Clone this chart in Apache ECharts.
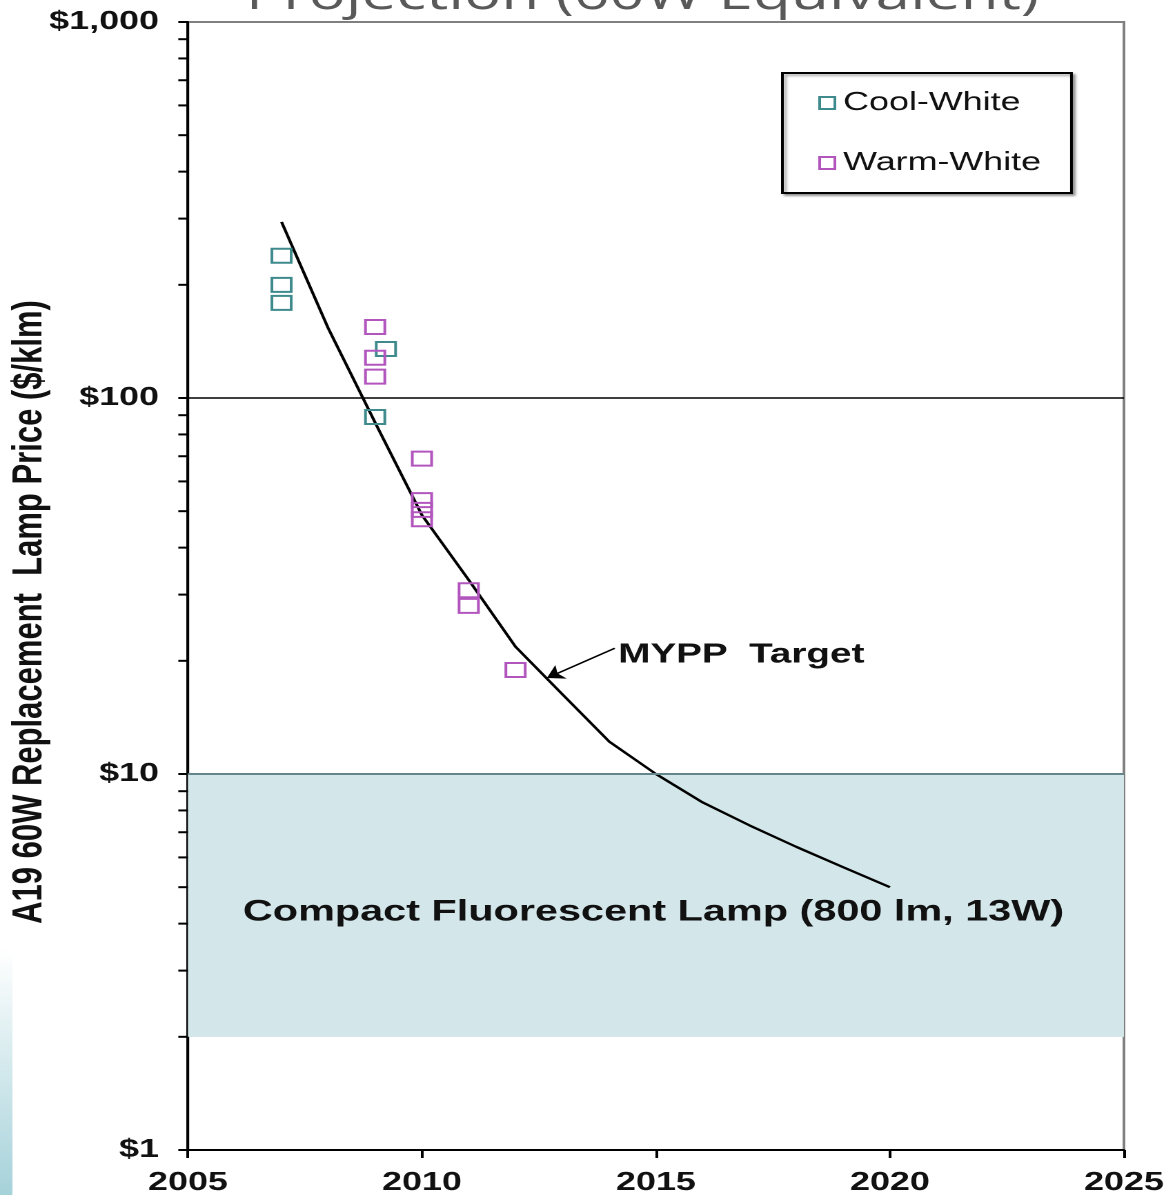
<!DOCTYPE html>
<html>
<head>
<meta charset="utf-8">
<script src="https://cdn.jsdelivr.net/npm/echarts@6/dist/echarts.min.js"></script>
<style>
  html, body { margin: 0; padding: 0; background: #fff; overflow: hidden; }
  #wrap { width: 1166px; height: 1195px; overflow: hidden; position: relative; }
  /* the reference picture is a horizontally stretched slide image */
  #chart { width: 845px; height: 1195px; transform: scaleX(1.3799); transform-origin: 0 0; }
</style>
</head>
<body>
<div id="wrap"><div id="chart"></div></div>
<script>
// ---------------- data ----------------
const titleText = 'Projection (60W Equivalent)';
const yAxisTitle = 'A19 60W Replacement  Lamp Price ($/klm)';
const xTicks = [2005, 2010, 2015, 2020, 2025];
const yTickValues = [1, 10, 100, 1000];
const yTickLabels = ['$1', '$10', '$100', '$1,000'];
const minorTickValues = [2, 3, 4, 5, 6, 7, 8, 9, 20, 30, 40, 50, 60, 70, 80, 90, 200, 300, 400, 500, 600, 700, 800, 900];

const myppYears  = [2007, 2008, 2009, 2010, 2011, 2012, 2013, 2014, 2015, 2016, 2017, 2018, 2019, 2020];
const myppTarget = [294, 153, 86, 48.8, 32.8, 21.8, 16.3, 12.2, 10, 8.4, 7.3, 6.4, 5.65, 5.0];

const coolYears  = [2007, 2007, 2007, 2009.23, 2009];
const coolValues = [239, 200, 179, 135, 89];

const warmYears  = [2009, 2009, 2009, 2010, 2010, 2010, 2010, 2011, 2011, 2012];
const warmValues = [154.5, 128, 114, 69, 53.5, 50.4, 47.6, 30.8, 28, 18.9];

const cflBand = [2, 10];          // compact fluorescent lamp price range ($/klm)
const referenceLine = 100;
const arrowFrom = [2014.12, 21.6];
const arrowTo   = [2012.67, 18.0];
const myppLabel = 'MYPP  Target';
const cflLabel  = 'Compact Fluorescent Lamp (800 lm, 13W)';

// ---------------- chart ----------------
const chart = echarts.init(document.getElementById('chart'), null, { devicePixelRatio: 2 });
const zip = (xs, ys) => xs.map((x, i) => [x, ys[i]]);
const COOL = '#3e8a8c', WARM = '#b256be';
const labelFont = '"Liberation Sans", Arial, sans-serif';

const option = {
  animation: false,
  backgroundColor: '#fff',
  grid: { left: 136.2, top: 22, width: 678.3, height: 1128, containLabel: false, outerBoundsMode: 'none',
          show: true, borderColor: '#808080', borderWidth: 2, backgroundColor: 'transparent' },
  legend: {
    data: ['Cool-White', 'Warm-White'],
    orient: 'vertical', left: 567, top: 73,
    padding: [17, 22, 17, 26], itemGap: 34, itemWidth: 11, itemHeight: 12,
    borderColor: '#000', borderWidth: 2, backgroundColor: '#fff',
    shadowColor: 'rgba(0,0,0,0.35)', shadowBlur: 2, shadowOffsetX: 2, shadowOffsetY: 2,
    textStyle: { fontFamily: labelFont, fontSize: 26, color: '#111', padding: [0, 0, 0, 1] },
    selectedMode: false
  },
  xAxis: {
    type: 'value', min: xTicks[0], max: xTicks[xTicks.length - 1], interval: 5,
    axisLine: { lineStyle: { color: '#000', width: 2 } },
    axisTick: { show: true, length: 8, lineStyle: { color: '#000', width: 2 } },
    axisLabel: { fontFamily: labelFont, fontSize: 26, fontWeight: 'bold', color: '#111', margin: 20,
                 formatter: v => String(v) },
    splitLine: { show: false }
  },
  yAxis: {
    type: 'log', logBase: 10, min: yTickValues[0], max: yTickValues[yTickValues.length - 1],
    name: yAxisTitle, nameLocation: 'middle', nameGap: 99, nameMoveOverlap: false,
    nameTextStyle: { fontFamily: labelFont, fontSize: 31, fontWeight: 'bold', color: '#111', padding: [0, 52, 0, 0] },
    axisLine: { lineStyle: { color: '#000', width: 2 } },
    axisTick: { show: true, length: 7, lineStyle: { color: '#000', width: 2 } },
    axisLabel: { fontFamily: labelFont, fontSize: 26, fontWeight: 'bold', color: '#111', margin: 21,
                 formatter: v => { const i = yTickValues.indexOf(Math.round(v)); return i >= 0 ? yTickLabels[i] : ''; } },
    splitLine: { show: false },
    minorTick: { show: false }
  },
  graphic: [
    { type: 'text', x: 465.6, y: -4, z: 10,
      style: { text: titleText, fontFamily: '"Open Sans", "Noto Sans", sans-serif', fontSize: 45, fill: '#595959', align: 'center', verticalAlign: 'middle' } },
    { type: 'text', x: 448, y: 655, z: 10,
      style: { text: myppLabel, fontFamily: labelFont, fontSize: 28, fontWeight: 'bold', fill: '#111', align: 'left', verticalAlign: 'middle' } },
    { type: 'text', x: 176, y: 912, z: 10,
      style: { text: cflLabel, fontFamily: labelFont, fontSize: 30, fontWeight: 'bold', fill: '#111', align: 'left', verticalAlign: 'middle' } },
    { type: 'rect', shape: { x: 0, y: 950, width: 9, height: 245 }, z: 0,
      style: { fill: new echarts.graphic.LinearGradient(0, 0, 0, 1, [{ offset: 0, color: '#ffffff' }, { offset: 1, color: '#a6d2da' }]) } }
  ],
  series: [
    {
      name: 'band', type: 'line', data: [], z: 1, silent: true,
      markArea: { silent: true, itemStyle: { color: '#d3e6ea' },
        data: [[{ yAxis: cflBand[0] }, { yAxis: cflBand[1] }]] },
      markLine: { silent: true, symbol: 'none', label: { show: false },
        data: [
          { yAxis: referenceLine, lineStyle: { color: '#000', width: 1.5, type: 'solid' } },
          { yAxis: cflBand[1], lineStyle: { color: '#62868c', width: 2, type: 'solid' } }
        ] }
    },
    {
      name: 'MYPP Target', type: 'line', z: 2, data: zip(myppYears, myppTarget),
      showSymbol: false, smooth: false, silent: true,
      lineStyle: { color: '#000', width: 2.2, join: 'round' },
      markLine: { silent: true, symbol: ['none', 'arrow'], symbolSize: 12, label: { show: false },
        lineStyle: { color: '#000', width: 1.5, type: 'solid' },
        data: [[{ coord: arrowFrom }, { coord: arrowTo }]] }
    },
    {
      name: 'Cool-White', type: 'scatter', z: 3, data: zip(coolYears, coolValues),
      symbol: 'rect', symbolSize: 14,
      itemStyle: { color: 'rgba(255,255,255,0)', borderColor: COOL, borderWidth: 2, opacity: 1 }
    },
    {
      name: 'Warm-White', type: 'scatter', z: 3, data: zip(warmYears, warmValues),
      symbol: 'rect', symbolSize: 14,
      itemStyle: { color: 'rgba(255,255,255,0)', borderColor: WARM, borderWidth: 2, opacity: 1 }
    },
    {
      name: 'minor ticks', type: 'custom', z: 5, silent: true, clip: false,
      data: minorTickValues.map(v => [xTicks[0], v]),
      renderItem: (params, api) => {
        const p = api.coord([api.value(0), api.value(1)]);
        return { type: 'line', shape: { x1: p[0] - 7, y1: p[1], x2: p[0], y2: p[1] },
                 style: { stroke: '#000', lineWidth: 2 } };
      }
    }
  ]
};
chart.setOption(option);
</script>
</body>
</html>
